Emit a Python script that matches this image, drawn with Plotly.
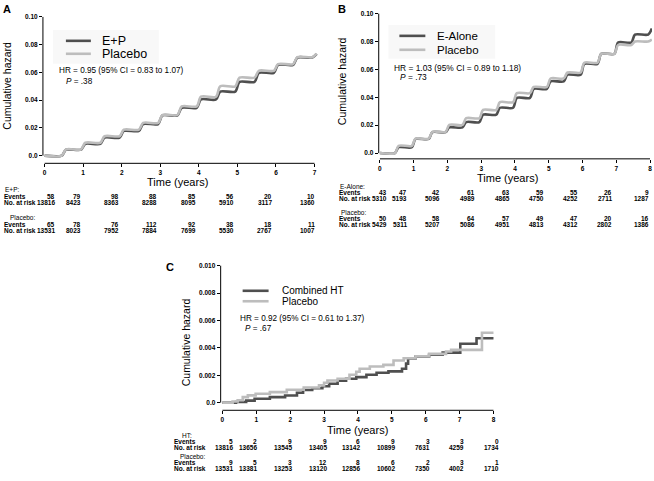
import plotly.graph_objects as go

# ---------------- data ----------------
# Panel A : E+P vs placebo
a_years = [0, 1, 2, 3, 4, 5, 6, 7]
a_step_times = [0.5, 1.0, 1.5, 2.0, 2.5, 3.0, 3.5, 4.0, 4.5, 5.0, 5.5, 6.0, 6.5, 7.0]
a_ep_hazard = [0.0043, 0.0085, 0.0130, 0.0178, 0.0228, 0.0290, 0.0345, 0.0405,
               0.0462, 0.0532, 0.0597, 0.0655, 0.0707, 0.0733]
a_pl_hazard = [0.0045, 0.0093, 0.0140, 0.0187, 0.0236, 0.0293, 0.0355, 0.0425,
               0.0500, 0.0562, 0.0612, 0.0660, 0.0710, 0.0735]
a_yticks = [0.0, 0.02, 0.04, 0.06, 0.08, 0.10]
a_yticklabels = ["0.0", "0.02", "0.04", "0.06", "0.08", "0.10"]
a_ep_events = [58, 79, 98, 88, 85, 56, 20, 10]
a_ep_risk = [13816, 8423, 8363, 8288, 8095, 5910, 3117, 1360]
a_pl_events = [65, 78, 76, 112, 92, 38, 18, 11]
a_pl_risk = [13531, 8023, 7952, 7884, 7699, 5530, 2767, 1007]

# Panel B : E-Alone vs placebo
b_years = [0, 1, 2, 3, 4, 5, 6, 7, 8]
b_step_times = [0.5, 1.0, 1.5, 2.0, 2.5, 3.0, 3.5, 4.0, 4.5, 5.0, 5.5, 6.0, 6.5, 7.0, 7.5, 8.0]
b_ea_hazard = [0.0042, 0.0101, 0.0150, 0.0184, 0.0222, 0.0275, 0.0325, 0.0396,
               0.0460, 0.0514, 0.0562, 0.0640, 0.0712, 0.0793, 0.0850, 0.0893]
b_pl_hazard = [0.0052, 0.0103, 0.0152, 0.0202, 0.0250, 0.0310, 0.0365, 0.0430,
               0.0474, 0.0535, 0.0578, 0.0648, 0.0712, 0.0775, 0.0800, 0.0815]
b_yticks = [0.0, 0.02, 0.04, 0.06, 0.08, 0.10]
b_yticklabels = ["0.0", "0.02", "0.04", "0.06", "0.08", "0.10"]
b_ea_events = [43, 47, 42, 61, 63, 59, 55, 26, 9]
b_ea_risk = [5310, 5193, 5096, 4989, 4865, 4750, 4252, 2711, 1287]
b_pl_events = [50, 48, 58, 64, 57, 49, 47, 20, 16]
b_pl_risk = [5429, 5311, 5207, 5086, 4951, 4813, 4312, 2802, 1386]

# Panel C : combined HT vs placebo (step functions)
c_years = [0, 1, 2, 3, 4, 5, 6, 7, 8]
c_ht_times = [0, 0.40, 0.70, 0.95, 1.40, 1.85, 2.20, 2.38, 2.65, 2.95, 3.15, 3.40, 3.65,
              3.95, 4.25, 4.55, 4.90, 5.30, 5.42, 5.48, 5.70, 6.10, 6.50, 7.02, 7.50, 8.0]
c_ht_values = [0, 0.00005, 0.00015, 0.00028, 0.00040, 0.00052, 0.00072, 0.00092, 0.00105,
               0.00120, 0.00138, 0.00160, 0.00174, 0.00186, 0.00204, 0.00218, 0.00228,
               0.00247, 0.00285, 0.00322, 0.00337, 0.00350, 0.00365, 0.00430, 0.00470, 0.00470]
c_pl_times = [0, 0.30, 0.45, 0.60, 0.75, 0.98, 1.40, 1.90, 2.40, 2.85, 3.00, 3.10, 3.40,
              3.75, 3.95, 4.05, 4.35, 4.75, 5.05, 5.35, 5.70, 6.10, 6.60, 6.75, 7.66, 8.0]
c_pl_values = [0, 0.00008, 0.00017, 0.00040, 0.00053, 0.00065, 0.00077, 0.00094, 0.00111,
               0.00126, 0.00145, 0.00162, 0.00174, 0.00204, 0.00225, 0.00247, 0.00264,
               0.00276, 0.00308, 0.00324, 0.00339, 0.00356, 0.00373, 0.00385, 0.00510, 0.00510]
c_yticks = [0.0, 0.002, 0.004, 0.006, 0.008, 0.010]
c_yticklabels = ["0.0", "0.002", "0.004", "0.006", "0.008", "0.010"]
c_ht_events = [5, 2, 9, 9, 6, 9, 3, 3, 0]
c_ht_risk = [13816, 13656, 13545, 13405, 13142, 10899, 7631, 4259, 1734]
c_pl_events = [9, 5, 3, 12, 8, 6, 2, 3, 1]
c_pl_risk = [13531, 13381, 13253, 13120, 12856, 10602, 7350, 4002, 1710]

# ---------------- style / layout ----------------
W, H = 654, 481
FONT = "Liberation Sans, Arial, sans-serif"
DARK = "#4f4f4f"
LIGHT = "#bdbdbd"
LW = 2.6


def px(x):
    return x / W


def py(y):
    return 1 - y / H


def stair(times, values, half=0.055):
    xs, ys = [0.0], [0.0]
    prev = 0.0
    for t, v in zip(times, values):
        xs += [t - half, t + half]
        ys += [prev, v]
        prev = v
    return xs, ys


def lin(p, va, pa, vb, pb):
    return va + (p - pa) * (vb - va) / (pb - pa)


def xaxis(dom, cal, ticks, anchor):
    (va, pa), (vb, pb) = cal
    return dict(domain=[px(dom[0]), px(dom[1])],
                range=[lin(dom[0], va, pa, vb, pb), lin(dom[1], va, pa, vb, pb)],
                tickvals=ticks, ticktext=[str(t) for t in ticks],
                ticks="outside", ticklen=3, tickwidth=1, tickcolor="black",
                showline=False, showgrid=False, zeroline=False, anchor=anchor,
                tickfont=dict(family=FONT, size=6.5, color="black", weight="bold"))


def yaxis(dom, cal, ticks, labels, anchor):
    (va, pa), (vb, pb) = cal
    return dict(domain=[py(dom[1]), py(dom[0])],
                range=[lin(dom[1], va, pa, vb, pb), lin(dom[0], va, pa, vb, pb)],
                tickvals=ticks, ticktext=labels,
                ticks="outside", ticklen=3, tickwidth=1, tickcolor="black",
                showline=False, showgrid=False, zeroline=False, anchor=anchor,
                tickfont=dict(family=FONT, size=6.5, color="black", weight="bold"))


fig = go.Figure()

# curves
ax, ay = stair(a_step_times, a_ep_hazard)
fig.add_trace(go.Scatter(x=ax, y=ay, mode="lines", line=dict(color=DARK, width=LW, shape="spline", smoothing=0.8),
                         xaxis="x", yaxis="y", showlegend=False))
ax, ay = stair(a_step_times, a_pl_hazard)
fig.add_trace(go.Scatter(x=ax, y=ay, mode="lines", line=dict(color=LIGHT, width=LW, shape="spline", smoothing=0.8),
                         xaxis="x", yaxis="y", showlegend=False))

bx, by = stair(b_step_times, b_ea_hazard)
fig.add_trace(go.Scatter(x=bx, y=by, mode="lines", line=dict(color=DARK, width=LW, shape="spline", smoothing=0.8),
                         xaxis="x2", yaxis="y2", showlegend=False))
bx, by = stair(b_step_times, b_pl_hazard)
fig.add_trace(go.Scatter(x=bx, y=by, mode="lines", line=dict(color=LIGHT, width=LW, shape="spline", smoothing=0.8),
                         xaxis="x2", yaxis="y2", showlegend=False))

fig.add_trace(go.Scatter(x=c_ht_times, y=c_ht_values, mode="lines", line=dict(color=DARK, width=LW, shape="hv"),
                         xaxis="x3", yaxis="y3", showlegend=False))
fig.add_trace(go.Scatter(x=c_pl_times, y=c_pl_values, mode="lines", line=dict(color=LIGHT, width=LW, shape="hv"),
                         xaxis="x3", yaxis="y3", showlegend=False))

panels = {
    "A": dict(xdom=(42, 320), ydom=(13, 162), xcal=((1, 82.3), (7, 314)), ycal=((0, 154.3), (0.10, 15)),
              xt=a_years, yt=a_yticks, yl=a_yticklabels, xa="x", ya="y"),
    "B": dict(xdom=(378.3, 652), ydom=(10, 157.5), xcal=((1, 413.3), (8, 650)), ycal=((0, 151.7), (0.10, 11.7)),
              xt=b_years, yt=b_yticks, yl=b_yticklabels, xa="x2", ya="y2"),
    "C": dict(xdom=(220, 496), ydom=(263, 410), xcal=((1, 255.7), (7, 459.3)), ycal=((0, 402.3), (0.008, 292.3)),
              xt=c_years, yt=c_yticks, yl=c_yticklabels, xa="x3", ya="y3"),
}

layout = dict(width=W, height=H, margin=dict(l=0, r=0, t=0, b=0), autosize=False,
              paper_bgcolor="white", plot_bgcolor="white", showlegend=False,
              font=dict(family=FONT, color="black"))
shapes = []
annotations = []

for key, p in panels.items():
    xname = "xaxis" + p["xa"][1:]
    yname = "yaxis" + p["ya"][1:]
    layout[xname] = xaxis(p["xdom"], p["xcal"], p["xt"], p["ya"])
    layout[yname] = yaxis(p["ydom"], p["ycal"], p["yt"], p["yl"], p["xa"])
    # detached-style axis lines spanning only the tick range
    shapes.append(dict(type="line", xref=p["xa"] + " domain", x0=0, x1=0, yref=p["ya"],
                       y0=p["yt"][0], y1=p["yt"][-1], line=dict(color="black", width=1)))
    shapes.append(dict(type="line", xref=p["xa"], x0=p["xt"][0], x1=p["xt"][-1], yref=p["ya"] + " domain",
                       y0=0, y1=0, line=dict(color="black", width=1)))


def text(x, y, s, size, anchor="left", bold=False, angle=0):
    annotations.append(dict(x=px(x), y=py(y), xref="paper", yref="paper", text=s, showarrow=False,
                            xanchor=anchor, yanchor="middle", textangle=angle, borderpad=0,
                            font=dict(family=FONT, size=size, color="black",
                                      weight="bold" if bold else "normal")))


# panel letters
text(1, 7, "A", 11, bold=True)
text(337, 7, "B", 11, bold=True)
text(164, 266, "C", 11, bold=True)

# axis titles
text(6, 84, "Cumulative hazard", 10.5, anchor="center", angle=-90)
text(341, 79, "Cumulative hazard", 10.5, anchor="center", angle=-90)
text(185, 342, "Cumulative hazard", 10.5, anchor="center", angle=-90)
text(177, 181, "Time (years)", 11, anchor="center")
text(507, 177, "Time (years)", 11, anchor="center")
text(357, 430, "Time (years)", 11, anchor="center")

# legend boxes (faint) + samples
shapes.append(dict(type="rect", xref="paper", yref="paper", x0=px(52), x1=px(158), y0=py(62), y1=py(28),
                   fillcolor="#f8f8f8", line=dict(width=0), layer="below"))
shapes.append(dict(type="rect", xref="paper", yref="paper", x0=px(388), x1=px(495), y0=py(57), y1=py(23),
                   fillcolor="#f8f8f8", line=dict(width=0), layer="below"))

legends = [
    (65, 90, 100, [(39, "E+P", DARK), (52, "Placebo", LIGHT)], 12.5),
    (399, 425, 436, [(34, "E-Alone", DARK), (48, "Placebo", LIGHT)], 11.5),
    (242, 268, 280, [(290, "Combined HT", DARK), (300.5, "Placebo", LIGHT)], 10),
]
for x0, x1, xt, items, fs in legends:
    for yy, lab, col in items:
        shapes.append(dict(type="line", xref="paper", yref="paper", x0=px(x0), x1=px(x1), y0=py(yy), y1=py(yy),
                           line=dict(color=col, width=LW)))
        text(xt, yy, lab, fs)

# HR texts
text(57, 69, "HR = 0.95 (95% CI = 0.83 to 1.07)", 8.2)
text(64, 79.5, "<i>P</i> = .38", 8.2)
text(393, 66, "HR = 1.03 (95% CI = 0.89 to 1.18)", 8.4)
text(399, 75.5, "<i>P</i> = .73", 8.4)
text(238, 318, "HR = 0.92 (95% CI = 0.61 to 1.37)", 8.2)
text(243, 328, "<i>P</i> = .67", 8.2)

# at-risk tables
TS = 6.5
tables = [
    dict(lx=2.5, head=("E+P:", 3.5, 188.5, "Placebo:", 8, 216.5), rows=(195.8, 201.8, 223, 229),
         cols=[55, 81, 119, 157, 196, 234, 272, 315],
         data=(a_ep_events, a_ep_risk, a_pl_events, a_pl_risk)),
    dict(lx=337.5, head=("E-Alone:", 339, 185, "Placebo:", 340, 211.7), rows=(191.7, 197.7, 217.7, 223.7),
         cols=[388, 408, 441, 476, 511, 545, 579, 613, 650],
         data=(b_ea_events, b_ea_risk, b_pl_events, b_pl_risk)),
    dict(lx=172.5, head=("HT:", 180, 435.7, "Placebo:", 178, 456.7), rows=(441.7, 447.7, 462.3, 468.3),
         cols=[233, 257, 292, 327, 361, 396, 431, 465, 500],
         data=(c_ht_events, c_ht_risk, c_pl_events, c_pl_risk)),
]
for t in tables:
    h1, h1x, h1y, h2, h2x, h2y = t["head"]
    text(h1x, h1y, h1, TS)
    text(h2x, h2y, h2, TS)
    labels = ["Events", "No. at risk", "Events", "No. at risk"]
    for lab, yy, vals in zip(labels, t["rows"], t["data"]):
        text(t["lx"], yy, lab, TS, bold=True)
        for cx, v in zip(t["cols"], vals):
            text(cx, yy, str(v), TS, anchor="right", bold=True)

layout["shapes"] = shapes
layout["annotations"] = annotations
fig.update_layout(**layout)
fig.write_html("out.html",
               config={"displayModeBar": False, "staticPlot": True},
               post_script="document.body.style.margin='0';document.body.style.overflow='hidden';")
